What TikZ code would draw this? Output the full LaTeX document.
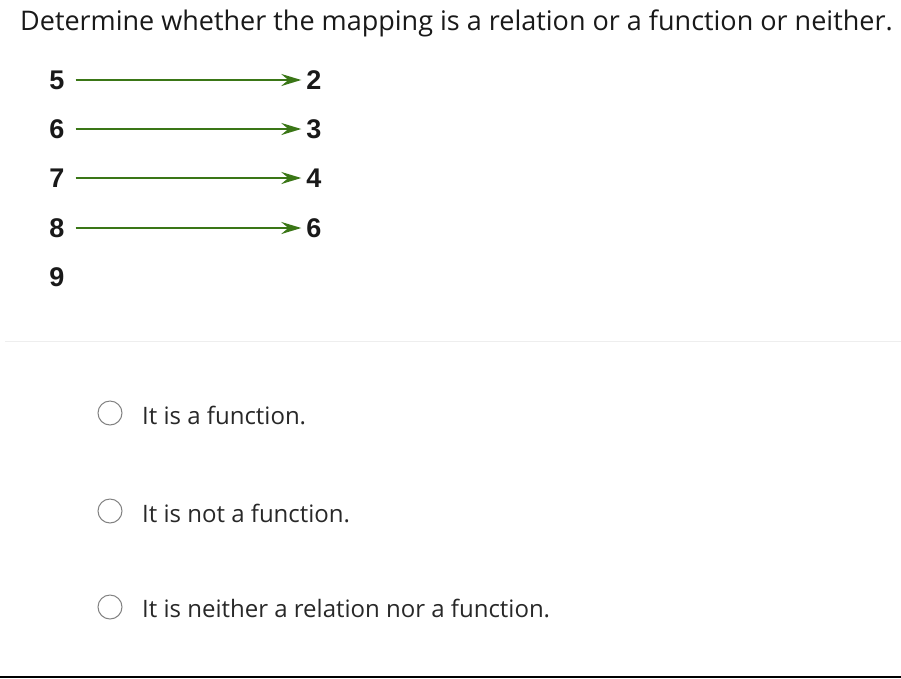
\documentclass[tikz,border=0pt]{standalone}
\usepackage{fontspec}
\setmainfont{Open Sans}
\newfontfamily\numfont{Liberation Sans}
\usetikzlibrary{arrows.meta}
\definecolor{arrgreen}{RGB}{58,118,22}
\definecolor{radiogray}{RGB}{130,130,130}
\definecolor{txt}{RGB}{40,40,40}
\definecolor{sepgray}{RGB}{238,238,238}
\tikzset{
  num/.style={font=\numfont\bfseries\fontsize{27}{27}\selectfont, inner sep=0pt, text=black!90},
  maparrow/.style={draw=arrgreen, line width=2.4pt, -{Stealth[length=20pt,width=12pt,inset=7pt]}, shorten >=5pt, shorten <=11pt},
  radio/.style={circle, draw=radiogray, line width=1pt, minimum size=24pt, inner sep=0pt},
  opt/.style={font=\fontsize{24}{24}\selectfont, text=txt, anchor=west, inner sep=0pt},
}
\begin{document}
\begin{tikzpicture}[x=1pt,y=-1pt]
\useasboundingbox (0,0) rectangle (901,678);
\fill[white] (0,0) rectangle (901,678);
\node[anchor=west, inner sep=0pt, font=\fontsize{27}{27}\selectfont, text=black!90] (title) at (20,23) {Determine whether the mapping is a relation or a function or neither.};
\foreach \n/\v/\y in {a/5/80, b/6/129, c/7/178, d/8/228, e/9/277}
  \node[num] (l\n) at (57,\y) {\v};
\foreach \n/\v/\y in {a/2/80, b/3/129, c/4/178, d/6/228}
  \node[num] (r\n) at (314,\y) {\v};
\foreach \n in {a,b,c,d}
  \draw[maparrow] (l\n) -- (r\n);
\draw[sepgray, line width=1pt] (5,341.5) -- (901,341.5);
\node[radio] (o1) at (110,413) {};
\node[radio] (o2) at (110,511) {};
\node[radio] (o3) at (110,607) {};
\node[opt] (t1) at (142,415) {It is a function.};
\node[opt] (t2) at (142,513) {It is not a function.};
\node[opt] (t3) at (142,608) {It is neither a relation nor a function.};
\fill[black] (0,676) rectangle (901,678);
\end{tikzpicture}
\end{document}
